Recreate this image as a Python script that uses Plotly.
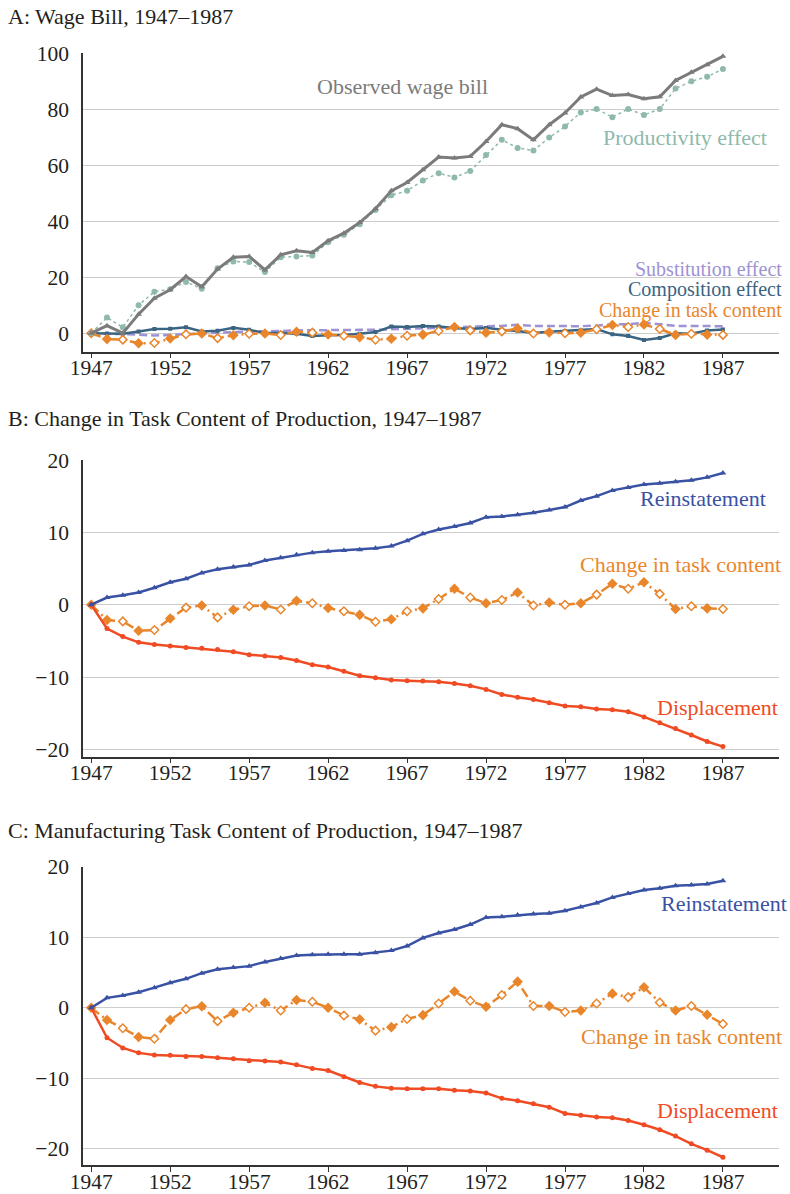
import plotly.graph_objects as go

years = list(range(1947, 1988))

# Panel A: Wage bill decomposition
observed = [0, 2.7, 0.0, 6.8, 12.5, 15.5, 20.2, 16.6, 22.9, 27.1, 27.4, 22.6, 28.0, 29.4, 28.8,
            33.0, 35.7, 39.5, 44.4, 50.8, 53.8, 58.3, 62.9, 62.5, 63.1, 68.4, 74.4, 73.0, 69.0,
            74.4, 78.6, 84.3, 87.1, 84.8, 85.2, 83.7, 84.4, 90.2, 93.1, 95.8, 98.8]
productivity = [0, 5.6, 2.1, 10.0, 14.8, 15.7, 18.3, 15.9, 23.2, 25.6, 25.4, 21.8, 27.1, 27.4, 27.7,
                32.5, 35.1, 38.9, 44.0, 49.2, 50.8, 54.5, 57.1, 55.6, 57.9, 63.6, 69.0, 66.1, 65.2,
                69.8, 73.8, 78.8, 80.0, 77.1, 80.0, 77.9, 80.0, 87.3, 89.9, 91.5, 94.3]
substitution = [0, -0.3, -0.3, -0.5, -0.8, -0.6, -0.3, 0.0, 0.2, 0.4, 0.6, 0.6, 0.8, 1.0, 1.1,
                1.1, 1.1, 1.2, 1.2, 1.4, 1.6, 1.8, 2.0, 2.3, 2.3, 2.5, 2.6, 3.0, 2.6,
                2.5, 2.4, 2.5, 2.7, 3.2, 3.2, 3.7, 3.2, 2.6, 2.6, 2.5, 2.5]
composition = [0, -0.1, -0.2, 0.6, 1.5, 1.6, 2.1, 0.6, 0.9, 1.9, 1.2, 0.1, 0.1, -0.2, -1.0,
               -0.7, -0.6, -0.2, 0.4, 2.4, 2.25, 2.6, 2.4, 1.9, 1.5, 1.9, 1.2, 0.8, 0.1,
               0.5, 0.8, 1.0, 1.5, -0.4, -1.0, -2.4, -1.7, 0.0, -0.2, 1.0, 1.3]

# Panel B: Change in task content of production
task_b = [0, -2.1, -2.3, -3.6, -3.5, -1.9, -0.4, -0.1, -1.75, -0.7, -0.2, -0.1, -0.65, 0.55, 0.2,
          -0.45, -0.9, -1.4, -2.35, -2.0, -0.9, -0.5, 0.8, 2.2, 1.0, 0.2, 0.65, 1.7, -0.1,
          0.3, 0.0, 0.2, 1.4, 2.9, 2.2, 3.1, 1.5, -0.6, -0.2, -0.5, -0.6]
reinst_b = [0, 1.0, 1.3, 1.7, 2.35, 3.1, 3.6, 4.4, 4.9, 5.2, 5.5, 6.1, 6.5, 6.9, 7.2,
            7.4, 7.5, 7.6, 7.8, 8.1, 8.85, 9.8, 10.4, 10.8, 11.3, 12.1, 12.2, 12.45, 12.7,
            13.1, 13.5, 14.4, 15.0, 15.8, 16.2, 16.6, 16.8, 17.0, 17.2, 17.6, 18.2]
displ_b = [0, -3.3, -4.4, -5.2, -5.5, -5.7, -5.9, -6.0, -6.2, -6.5, -6.9, -7.1, -7.3, -7.7, -8.3,
           -8.6, -9.2, -9.8, -10.1, -10.4, -10.5, -10.55, -10.65, -10.9, -11.2, -11.7, -12.4, -12.8, -13.1,
           -13.55, -14.0, -14.1, -14.4, -14.5, -14.8, -15.5, -16.3, -17.1, -18.0, -18.9, -19.6]

# Panel C: Manufacturing task content of production
task_c = [0, -1.75, -2.9, -4.15, -4.4, -1.75, -0.2, 0.2, -1.9, -0.7, 0.0, 0.7, -0.4, 1.1, 0.85,
          0.0, -1.1, -1.65, -3.25, -2.75, -1.6, -1.05, 0.6, 2.3, 1.0, 0.15, 1.8, 3.7, 0.25,
          0.25, -0.6, -0.4, 0.6, 2.0, 1.5, 2.9, 0.75, -0.4, 0.25, -1.0, -2.3]
reinst_c = [0, 1.4, 1.75, 2.2, 2.85, 3.55, 4.1, 4.9, 5.45, 5.7, 5.9, 6.5, 7.0, 7.4, 7.5,
            7.6, 7.6, 7.6, 7.8, 8.1, 8.75, 9.9, 10.6, 11.1, 11.8, 12.8, 12.9, 13.15, 13.3,
            13.4, 13.75, 14.3, 14.85, 15.65, 16.2, 16.7, 16.95, 17.3, 17.4, 17.55, 18.0]
displ_c = [0, -4.25, -5.7, -6.4, -6.7, -6.75, -6.9, -6.9, -7.1, -7.25, -7.5, -7.55, -7.7, -8.1, -8.6,
           -8.9, -9.8, -10.6, -11.15, -11.4, -11.5, -11.5, -11.5, -11.7, -11.8, -12.1, -12.85, -13.2, -13.6,
           -14.1, -15.0, -15.25, -15.5, -15.6, -16.0, -16.6, -17.3, -18.2, -19.3, -20.2, -21.2]

xticks = list(range(1947, 1988, 5))
panel_titles = ["A: Wage Bill, 1947–1987",
                "B: Change in Task Content of Production, 1947–1987",
                "C: Manufacturing Task Content of Production, 1947–1987"]

GRAY = "#7b7b7b"
SAGE = "#8fb9aa"
LAV = "#9d92d4"
TEAL = "#3a6482"
ORANGE = "#e9862c"
BLUE = "#3a52a4"
RED = "#f04b23"
FONT = "Liberation Serif"
TXT = "#231f20"

fig = go.Figure()


def task_trace(vals, xa, ya):
    fills = ["white" if i % 2 == 0 else ORANGE for i in range(len(vals))]
    fills[0] = ORANGE
    return go.Scatter(x=years, y=vals, mode="lines+markers", xaxis=xa, yaxis=ya,
                      line=dict(color=ORANGE, width=2.5, dash="10px,4px,2px,4px"),
                      marker=dict(symbol="diamond", size=6.5, color=fills,
                                  line=dict(color=ORANGE, width=1.5)),
                      showlegend=False)


# Panel A traces
fig.add_trace(go.Scatter(x=years, y=substitution, mode="lines", xaxis="x", yaxis="y",
                         line=dict(color=LAV, width=2.5, dash="8px,4px"), showlegend=False))
fig.add_trace(go.Scatter(x=years, y=composition, mode="lines+markers", xaxis="x", yaxis="y",
                         line=dict(color=TEAL, width=2.5),
                         marker=dict(symbol="square", size=4, color=TEAL), showlegend=False))
fig.add_trace(task_trace(task_b, "x", "y"))
fig.add_trace(go.Scatter(x=years, y=productivity, mode="lines+markers", xaxis="x", yaxis="y",
                         line=dict(color=SAGE, width=1.5, dash="dot"),
                         marker=dict(symbol="circle", size=6, color=SAGE), showlegend=False))
fig.add_trace(go.Scatter(x=years, y=observed, mode="lines+markers", xaxis="x", yaxis="y",
                         line=dict(color=GRAY, width=3),
                         marker=dict(symbol="triangle-up", size=6, color=GRAY), showlegend=False))

# Panel B traces
fig.add_trace(task_trace(task_b, "x2", "y2"))
fig.add_trace(go.Scatter(x=years, y=displ_b, mode="lines+markers", xaxis="x2", yaxis="y2",
                         line=dict(color=RED, width=2.5),
                         marker=dict(symbol="circle", size=5, color=RED), showlegend=False))
fig.add_trace(go.Scatter(x=years, y=reinst_b, mode="lines+markers", xaxis="x2", yaxis="y2",
                         line=dict(color=BLUE, width=2.5),
                         marker=dict(symbol="triangle-up", size=6, color=BLUE), showlegend=False))

# Panel C traces
fig.add_trace(task_trace(task_c, "x3", "y3"))
fig.add_trace(go.Scatter(x=years, y=displ_c, mode="lines+markers", xaxis="x3", yaxis="y3",
                         line=dict(color=RED, width=2.5),
                         marker=dict(symbol="circle", size=5, color=RED), showlegend=False))
fig.add_trace(go.Scatter(x=years, y=reinst_c, mode="lines+markers", xaxis="x3", yaxis="y3",
                         line=dict(color=BLUE, width=2.5),
                         marker=dict(symbol="triangle-up", size=6, color=BLUE), showlegend=False))

ML, MR, MT, MB = 83, 11, 53, 29
W, H = 790, 1194
PW = W - ML - MR
PH = H - MT - MB


def yfrac(py):
    return (H - MB - py) / PH


def xfrac(px):
    return (px - ML) / PW


xax = dict(range=[1946.48, 1990.55], tickvals=xticks, showgrid=False, zeroline=False,
           showline=True, linecolor="#333333", linewidth=1.5, ticks="outside", ticklen=5,
           tickcolor="#333333", tickwidth=1.2, automargin=False, ticklabelstandoff=-9,
           tickfont=dict(family=FONT, size=21.5, color=TXT))
yax = dict(showgrid=True, gridcolor="#cdcdcd", gridwidth=1.2, zeroline=False, showline=True,
           linecolor="#333333", linewidth=1.5, ticks="", ticklabelstandoff=8, automargin=False,
           tickfont=dict(family=FONT, size=21.5, color=TXT))

fig.update_layout(
    width=W, height=H,
    margin=dict(l=ML, r=MR, t=MT, b=MB, autoexpand=False),
    paper_bgcolor="white", plot_bgcolor="white",
    xaxis=dict(xax, anchor="y"),
    xaxis2=dict(xax, anchor="y2"),
    xaxis3=dict(xax, anchor="y3"),
    yaxis=dict(yax, domain=[yfrac(351.7), 1.0], range=[-6.6, 100], tickvals=[0, 20, 40, 60, 80, 100], anchor="x"),
    yaxis2=dict(yax, domain=[yfrac(756.7), yfrac(460)], range=[-21.0, 20], tickvals=[-20, -10, 0, 10, 20], anchor="x2"),
    yaxis3=dict(yax, domain=[0.0, yfrac(866.7)], range=[-22.3, 20], tickvals=[-20, -10, 0, 10, 20], anchor="x3"),
)

for title, py in zip(panel_titles, [16, 419, 830]):
    fig.add_annotation(text=title, xref="paper", yref="paper", x=xfrac(6), y=yfrac(py),
                       xanchor="left", yanchor="middle", showarrow=False,
                       font=dict(family=FONT, size=22, color=TXT))

# (text, x px, y px, anchor, colour, size)
labels = [
    ("Observed wage bill", 402, 86, "center", GRAY, 22),
    ("Productivity effect", 768, 138, "right", SAGE, 22),
    ("Substitution effect", 783, 269, "right", LAV, 20),
    ("Composition effect", 783, 289.5, "right", TEAL, 20),
    ("Change in task content", 783, 310, "right", ORANGE, 20),
    ("Reinstatement", 767, 499, "right", BLUE, 22),
    ("Change in task content", 782, 564, "right", ORANGE, 22),
    ("Displacement", 779, 707, "right", RED, 22),
    ("Reinstatement", 788, 903, "right", BLUE, 22),
    ("Change in task content", 783, 1036, "right", ORANGE, 22),
    ("Displacement", 779, 1110, "right", RED, 22),
]
for text, px, py, anc, col, fs in labels:
    fig.add_annotation(text=text, xref="paper", yref="paper", x=xfrac(px), y=yfrac(py),
                       xanchor=anc, yanchor="middle", showarrow=False, borderpad=0,
                       font=dict(family=FONT, size=fs, color=col))

fig.write_html("out.html", config={"displayModeBar": False},
               post_script="document.body.style.margin='0';document.body.style.overflow='hidden';")
